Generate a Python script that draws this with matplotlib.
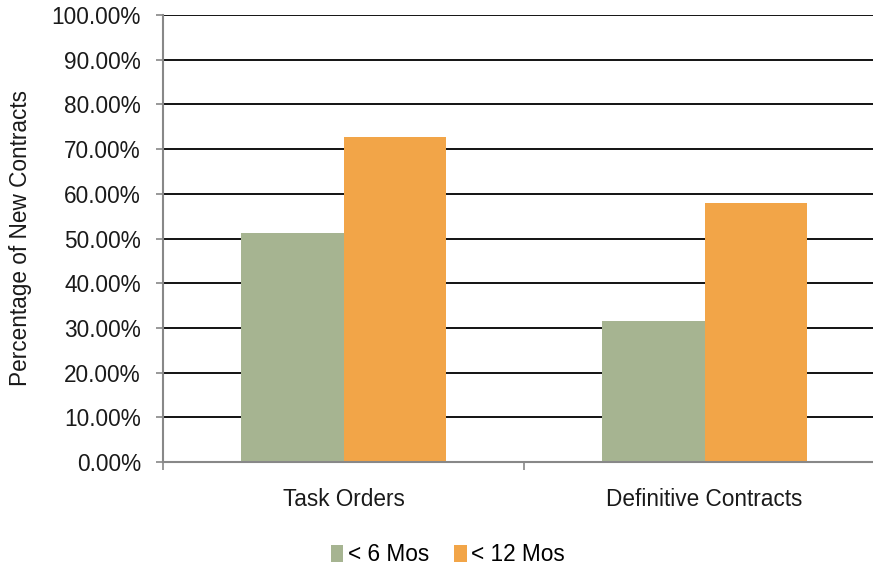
import numpy as np
import matplotlib
matplotlib.use('Agg')
import matplotlib.pyplot as plt
from matplotlib.ticker import FuncFormatter, MultipleLocator

# chart data
categories = ['Task Orders', 'Definitive Contracts']
series_names = ['< 6 Mos', '< 12 Mos']
under_6 = [51.3, 31.5]
under_12 = [72.7, 57.9]

green = '#A6B491'
orange = '#F2A548'

plt.rcParams['font.family'] = ['Liberation Sans', 'DejaVu Sans']
plt.rcParams['font.size'] = 16.3

fig = plt.figure(figsize=(8.73, 5.67), dpi=100)
# axes reaches past the right edge of the figure, like the original
ax = fig.add_axes([163 / 873, 105 / 567, (885 - 163) / 873, 447 / 567])

x = np.arange(len(categories))
w = 0.283
ax.bar(x - w / 2, under_6, w, color=green, label=series_names[0], zorder=3)
ax.bar(x + w / 2, under_12, w, color=orange, label=series_names[1], zorder=3)

ax.set_xlim(-0.5, 1.5)
ax.set_ylim(0, 100)
ax.yaxis.set_major_locator(MultipleLocator(10))
ax.yaxis.set_major_formatter(FuncFormatter(lambda v, p: '%.2f%%' % v))
ax.grid(axis='y', color='black', linewidth=1.3, zorder=0)

ax.set_xticks(x)
ax.set_xticklabels(categories)
ax.set_xticks([-0.5, 0.5, 1.5], minor=True)
ax.tick_params(axis='x', which='major', length=0, pad=19, colors='#1a1a1a')
ax.tick_params(axis='x', which='minor', length=6, width=1.2, color='#888888')
ax.tick_params(axis='y', length=5, width=1.2, color='#888888', pad=11,
               labelcolor='#1a1a1a')

for s in ['top', 'right']:
    ax.spines[s].set_visible(False)
for s in ['left', 'bottom']:
    ax.spines[s].set_color('#888888')
    ax.spines[s].set_linewidth(1.5)
    ax.spines[s].set_zorder(4)

ax.set_ylabel('Percentage of New Contracts', color='#1a1a1a')
ax.yaxis.set_label_coords(-131 / 722, 0.5)

fig.legend(loc='lower center', bbox_to_anchor=(0.513, -0.035), ncol=2,
           frameon=False, handlelength=0.55, handleheight=0.75,
           handletextpad=0.2, columnspacing=1.1)

plt.savefig('out.png', dpi=100)
